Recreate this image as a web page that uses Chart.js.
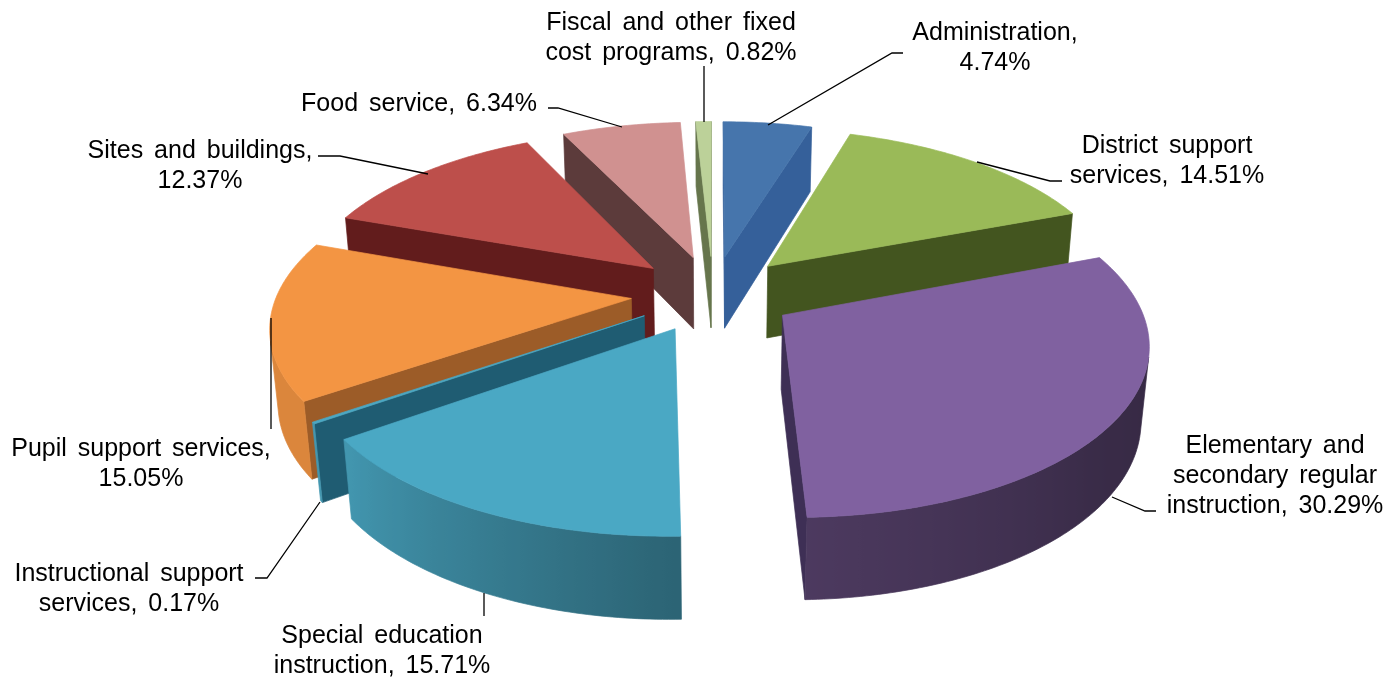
<!DOCTYPE html>
<html>
<head>
<meta charset="utf-8">
<title>Spending by program</title>
<script src="https://cdn.jsdelivr.net/npm/chart.js@4"></script>
<style>
  html, body { margin: 0; padding: 0; background: #fff; }
  canvas { display: block; }
</style>
</head>
<body>
<canvas id="spendingChart" width="1399" height="679"></canvas>
<script>
const categories = [
    'Administration',
    'District support services',
    'Elementary and secondary regular instruction',
    'Special education instruction',
    'Instructional support services',
    'Pupil support services',
    'Sites and buildings',
    'Food service',
    'Fiscal and other fixed cost programs'
];
const values = [4.74, 14.51, 30.29, 15.71, 0.17, 15.05, 12.37, 6.34, 0.82];
const topColors = ['#4675ac', '#9aba58', '#8061a0', '#4aa8c4', '#4aa8c4', '#f39543', '#bd4f4b', '#d09190', '#bcd199'];
const wallColors = ['#35609a', '#43551f', '#3e2f55', '#2f6678', '#1f5c72', '#9c5c28', '#621c1c', '#5c3b3b', '#66754c'];

// word counts after which each label wraps
const labelBreaks = [[1], [2], [2, 4], [2], [2], [3], [3], [], [4]];
const labelSpots = [
    { x: 995, y: 40 }, { x: 1167, y: 153 }, { x: 1275, y: 453 },
    { x: 382, y: 643 }, { x: 129, y: 581 }, { x: 141, y: 456 },
    { x: 200, y: 158 }, { x: 419, y: 111 }, { x: 671, y: 30 }
];
const leaderLines = [
    [[903, 53], [892, 53], [768, 125]],
    [[1062, 181], [1050, 181], [977, 162]],
    [[1156, 511], [1145, 511], [1112, 497]],
    [[484, 593], [484, 616]],
    [[255, 578], [267, 578], [320, 502]],
    [[271, 318], [271, 429]],
    [[318, 156], [340, 156], [428, 174]],
    [[548, 108], [558, 108], [622, 127]],
    [[704, 66], [704, 122]]
];

// camera for the tilted pie
const cam = { cx: 713, cy: 293.5, sin: 0.4665, cos: 0.8845, dist: 2114 };
const pieRadius = 354;
const pieHeight = 84;
const explode = 82;

// rim brightness going clockwise from twelve o'clock
const rimShade = [[0, 0.55], [100, 0.42], [130, 0.45], [180, 0.6], [235, 0.9], [270, 0.9], [360, 0.7]];

function project(x, y, z) {
    const depth = cam.dist + y * cam.cos - z * cam.sin;
    const up = y * cam.sin + z * cam.cos;
    return [cam.cx + cam.dist * x / depth, cam.cy - cam.dist * up / depth];
}

// is a vertical face with plan normal (nx, ny) through (px, py) turned to the viewer
function facesCamera(nx, ny, px, py) {
    const camY = -cam.dist * cam.cos;
    return nx * (0 - px) + ny * (camY - py) > 0;
}

function shadeAt(deg) {
    for (let i = 1; i < rimShade.length; i++) {
        if (deg <= rimShade[i][0]) {
            const a = rimShade[i - 1], b = rimShade[i];
            return a[1] + (b[1] - a[1]) * (deg - a[0]) / (b[0] - a[0]);
        }
    }
    return 0.7;
}

function shadeColor(hex, k) {
    const n = parseInt(hex.slice(1), 16);
    return `rgb(${Math.round((n >> 16) * k)},${Math.round(((n >> 8) & 255) * k)},${Math.round((n & 255) * k)})`;
}

function fillPoly(ctx, pts, color) {
    ctx.beginPath();
    pts.forEach((p, i) => i ? ctx.lineTo(p[0], p[1]) : ctx.moveTo(p[0], p[1]));
    ctx.closePath();
    ctx.fillStyle = color;
    ctx.strokeStyle = color;
    ctx.lineWidth = 0.7;
    ctx.lineJoin = 'round';
    ctx.fill();
    ctx.stroke();
}

function drawSlice(ctx, el, index) {
    const mid = (el.startAngle + el.endAngle) / 2;
    const ox = Math.cos(mid) * el.options.offset;
    const oy = -Math.sin(mid) * el.options.offset;
    const edge = a => [ox + Math.cos(a) * pieRadius, oy - Math.sin(a) * pieRadius];
    const wall = wallColors[index];

    // flat cut faces
    [[el.startAngle, -Math.PI / 2], [el.endAngle, Math.PI / 2]].forEach(([a, turn]) => {
        const [ex, ey] = edge(a);
        if (facesCamera(Math.cos(a + turn), -Math.sin(a + turn), ox, oy)) {
            fillPoly(ctx, [project(ox, oy, 0), project(ex, ey, 0), project(ex, ey, -pieHeight), project(ox, oy, -pieHeight)], wall);
        }
    });

    const steps = Math.max(2, Math.ceil((el.endAngle - el.startAngle) / 0.015));
    const da = (el.endAngle - el.startAngle) / steps;

    // outer rim: the part facing the viewer, shaded left to right
    const upper = [], lower = [], stops = [];
    for (let i = 0; i <= steps; i++) {
        const a = el.startAngle + i * da;
        const [x, y] = edge(a);
        if (!facesCamera(Math.cos(a), -Math.sin(a), x, y)) continue;
        const p = project(x, y, 0);
        upper.push(p);
        lower.push(project(x, y, -pieHeight));
        stops.push([p[0], shadeColor(topColors[index], shadeAt(((a + Math.PI / 2) * 180 / Math.PI + 360) % 360))]);
    }
    if (upper.length > 1) {
        const xs = stops.map(s => s[0]);
        const x0 = Math.min(...xs), x1 = Math.max(...xs);
        const grad = ctx.createLinearGradient(x0, 0, x1, 0);
        stops.sort((a, b) => a[0] - b[0]).forEach(s => grad.addColorStop((s[0] - x0) / (x1 - x0), s[1]));
        fillPoly(ctx, upper.concat(lower.reverse()), grad);
    }

    // top face
    const top = [project(ox, oy, 0)];
    for (let i = 0; i <= steps; i++) {
        const [x, y] = edge(el.startAngle + i * da);
        top.push(project(x, y, 0));
    }
    fillPoly(ctx, top, topColors[index]);
}

function labelLines(i) {
    const words = `${categories[i]}, ${values[i].toFixed(2)}%`.split(' ');
    const lines = [];
    let from = 0;
    labelBreaks[i].concat(words.length).forEach(to => {
        lines.push(words.slice(from, to).join(' '));
        from = to;
    });
    return lines;
}

const tiltedPie = {
    id: 'tiltedPie',
    beforeDatasetDraw(chart, args) {
        const ctx = chart.ctx;
        const arcs = args.meta.data;
        const order = arcs.map((el, i) => i).sort((a, b) => {
            const midA = (arcs[a].startAngle + arcs[a].endAngle) / 2;
            const midB = (arcs[b].startAngle + arcs[b].endAngle) / 2;
            return Math.sin(midA) - Math.sin(midB);
        });
        ctx.save();
        order.forEach(i => drawSlice(ctx, arcs[i], i));
        ctx.restore();
        return false;
    },
    afterDraw(chart) {
        const ctx = chart.ctx;
        ctx.save();
        ctx.strokeStyle = '#000';
        ctx.lineWidth = 1.3;
        leaderLines.forEach(line => {
            ctx.beginPath();
            line.forEach((p, i) => i ? ctx.lineTo(p[0], p[1]) : ctx.moveTo(p[0], p[1]));
            ctx.stroke();
        });
        ctx.fillStyle = '#000';
        ctx.font = '25px "Liberation Sans", Arial, sans-serif';
        ctx.textAlign = 'center';
        ctx.wordSpacing = '4px';
        categories.forEach((name, i) => {
            labelLines(i).forEach((text, row) => {
                ctx.fillText(text, labelSpots[i].x, labelSpots[i].y + row * 30);
            });
        });
        ctx.restore();
    }
};

new Chart(document.getElementById('spendingChart').getContext('2d'), {
    type: 'pie',
    data: {
        labels: categories,
        datasets: [{
            data: values,
            backgroundColor: topColors,
            borderWidth: 0,
            offset: explode
        }]
    },
    options: {
        responsive: false,
        animation: false,
        plugins: {
            legend: { display: false },
            tooltip: { enabled: false }
        }
    },
    plugins: [tiltedPie]
});
</script>
</body>
</html>
